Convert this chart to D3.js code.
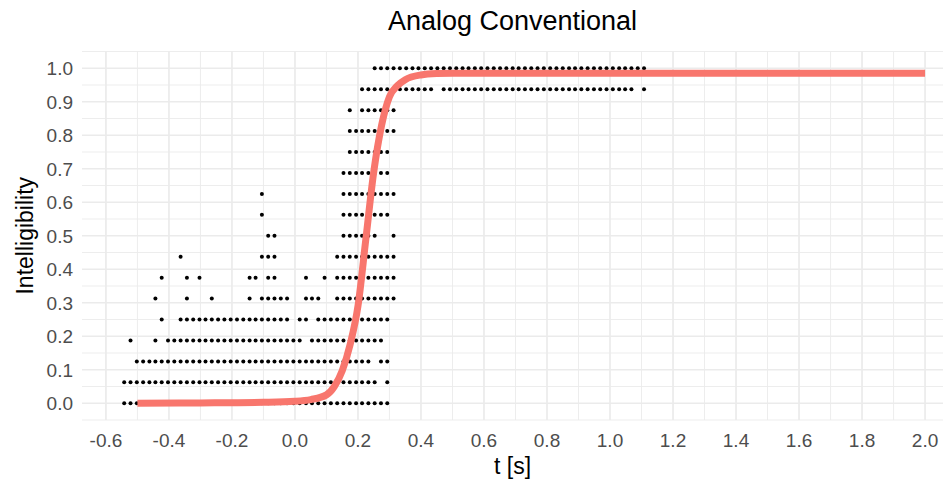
<!DOCTYPE html>
<html>
<head>
<meta charset="utf-8">
<script src="https://cdn.jsdelivr.net/npm/d3@7/dist/d3.min.js"></script>
<style>
  body { margin: 0; background: #fff; }
  text { font-family: "Liberation Sans", Arial, sans-serif; }
</style>
</head>
<body>
<div id="chart"></div>
<script>
// ---- data ----

// column times of the dot grid (s)
const tValues = [
  -0.542, -0.522, -0.502, -0.482, -0.462, -0.443, -0.423, -0.403, -0.383, -0.363,
  -0.343, -0.323, -0.303, -0.284, -0.264, -0.244, -0.224, -0.204, -0.184, -0.164,
  -0.144, -0.125, -0.105, -0.085, -0.065, -0.045, -0.025, -0.005, 0.015, 0.035,
  0.054, 0.074, 0.094, 0.114, 0.134, 0.154, 0.174, 0.194, 0.213, 0.233,
  0.253, 0.273, 0.293, 0.313, 0.333, 0.353, 0.373, 0.392, 0.412, 0.432,
  0.452, 0.472, 0.492, 0.512, 0.532, 0.551, 0.571, 0.591, 0.611, 0.631,
  0.651, 0.671, 0.691, 0.710, 0.730, 0.750, 0.770, 0.790, 0.810, 0.830,
  0.850, 0.870, 0.889, 0.909, 0.929, 0.949, 0.969, 0.989, 1.009, 1.029,
  1.048, 1.068, 1.088, 1.108
];

// intelligibility levels (sixteenths)
const yLevels = [
  0, 0.0625, 0.125, 0.1875, 0.25, 0.3125, 0.375, 0.4375, 0.5,
  0.5625, 0.625, 0.6875, 0.75, 0.8125, 0.875, 0.9375, 1
];

// which columns hold a dot on each level (index into tValues)
const rowColumns = [
  "0-42",
  "0-40,42",
  "2-39,41-42",
  "1,5,7-28,30-41",
  "6,9-26,28-29,31-42",
  "5,10,14,20,22-26,29-31,34-43",
  "6,10,12,20-21,23-24,29,32,34-43",
  "9,22-24,34-43",
  "23-24,35-40,43",
  "22,35-42",
  "22,35-43",
  "35-42",
  "36-42",
  "36-43",
  "36,38-43",
  "38-49,51-81,83",
  "40-83"
];

// fitted curve
const curveT = [-0.5, -0.3, -0.1, 0, 0.05, 0.1, 0.125, 0.15, 0.175, 0.2, 0.225,
  0.25, 0.275, 0.3, 0.325, 0.35, 0.4, 0.45, 0.5, 1.0, 2.0];
const curveV = [0, 0.001, 0.003, 0.006, 0.011, 0.025, 0.05, 0.097, 0.175, 0.29, 0.49,
  0.69, 0.83, 0.915, 0.948, 0.966, 0.98, 0.984, 0.985, 0.985, 0.985];

const xTicks = [-0.6, -0.4, -0.2, 0.0, 0.2, 0.4, 0.6, 0.8, 1.0, 1.2, 1.4, 1.6, 1.8, 2.0];
const yTicks = [0, 0.1, 0.2, 0.3, 0.4, 0.5, 0.6, 0.7, 0.8, 0.9, 1.0];

// ---- layout ----
const width = 943, height = 486;
const panel = { left: 82, right: 943, top: 51.5, bottom: 420 };

const svg = d3.select("#chart").append("svg")
  .attr("width", width)
  .attr("height", height);

const x = d3.scaleLinear().domain([-0.676, 2.057]).range([panel.left, panel.right]);
const y = d3.scaleLinear().domain([-0.05, 1.05]).range([panel.bottom, panel.top]);

// grid lines (theme_minimal look)
const grid = svg.append("g");
const minorX = d3.range(-0.6, 2.11, 0.1).filter(v => Math.abs(Math.round(v * 10) % 2) === 1);
const minorY = d3.range(-0.05, 1.06, 0.1);

grid.selectAll(".minx").data(minorX).join("line")
  .attr("x1", d => x(d)).attr("x2", d => x(d))
  .attr("y1", panel.top).attr("y2", panel.bottom)
  .attr("stroke", "#EBEBEB").attr("stroke-width", 0.9);
grid.selectAll(".miny").data(minorY).join("line")
  .attr("x1", panel.left).attr("x2", panel.right)
  .attr("y1", d => y(d)).attr("y2", d => y(d))
  .attr("stroke", "#EBEBEB").attr("stroke-width", 0.9);
grid.selectAll(".majx").data(xTicks).join("line")
  .attr("x1", d => x(d)).attr("x2", d => x(d))
  .attr("y1", panel.top).attr("y2", panel.bottom)
  .attr("stroke", "#EBEBEB").attr("stroke-width", 1.7);
grid.selectAll(".majy").data(yTicks).join("line")
  .attr("x1", panel.left).attr("x2", panel.right)
  .attr("y1", d => y(d)).attr("y2", d => y(d))
  .attr("stroke", "#EBEBEB").attr("stroke-width", 1.7);

// expand "a-b,c" column lists into points
function parseCols(s) {
  let out = [];
  s.split(",").forEach(part => {
    let [a, b] = part.split("-").map(Number);
    if (b === undefined) b = a;
    for (let k = a; k <= b; k++) out.push(k);
  });
  return out;
}
const points = [];
rowColumns.forEach((s, i) => {
  parseCols(s).forEach(k => points.push({ t: tValues[k], v: yLevels[i] }));
});

svg.append("g").selectAll("circle")
  .data(points)
  .join("circle")
  .attr("cx", d => x(d.t))
  .attr("cy", d => y(d.v))
  .attr("r", 2)
  .attr("fill", "#000");

// fitted curve
const line = d3.line()
  .x(d => x(d[0]))
  .y(d => y(d[1]))
  .curve(d3.curveMonotoneX);

svg.append("path")
  .datum(curveT.map((t, i) => [t, curveV[i]]))
  .attr("d", line)
  .attr("fill", "none")
  .attr("stroke", "#F8766D")
  .attr("stroke-width", 7);

// tick labels
svg.append("g").selectAll("text")
  .data(xTicks)
  .join("text")
  .attr("x", d => x(d))
  .attr("y", 447)
  .attr("text-anchor", "middle")
  .attr("font-size", 19)
  .attr("fill", "#4D4D4D")
  .text(d => d3.format(".1f")(d).replace("−", "-"));

svg.append("g").selectAll("text")
  .data(yTicks)
  .join("text")
  .attr("x", 73)
  .attr("y", d => y(d))
  .attr("dy", "0.36em")
  .attr("text-anchor", "end")
  .attr("font-size", 19)
  .attr("fill", "#4D4D4D")
  .text(d => d3.format(".1f")(d));

// titles
svg.append("text")
  .attr("x", (panel.left + panel.right) / 2)
  .attr("y", 30)
  .attr("text-anchor", "middle")
  .attr("font-size", 27)
  .attr("fill", "#000")
  .text("Analog Conventional");

svg.append("text")
  .attr("x", (panel.left + panel.right) / 2)
  .attr("y", 474)
  .attr("text-anchor", "middle")
  .attr("font-size", 23)
  .attr("fill", "#000")
  .text("t [s]");

svg.append("text")
  .attr("transform", `translate(33, ${(panel.top + panel.bottom) / 2}) rotate(-90)`)
  .attr("text-anchor", "middle")
  .attr("font-size", 23)
  .attr("fill", "#000")
  .text("Intelligibility");
</script>
</body>
</html>
